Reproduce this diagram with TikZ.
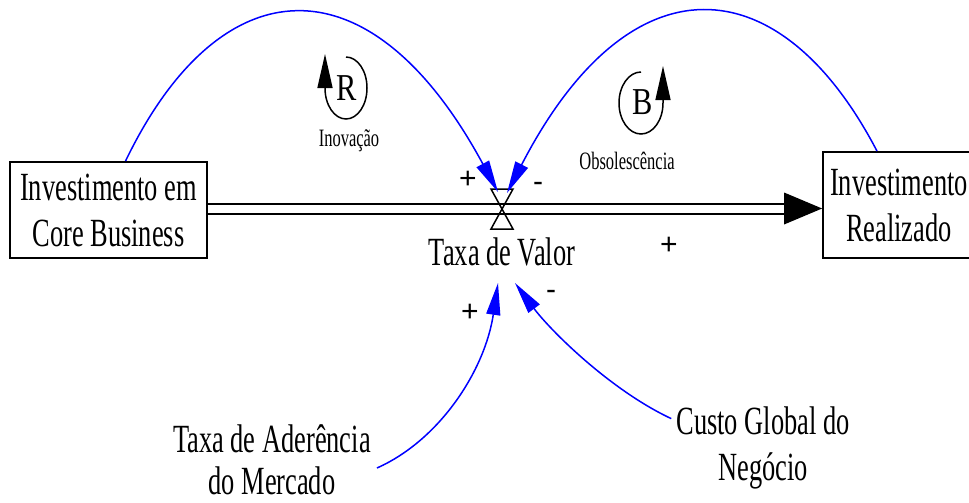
\documentclass[tikz,border=0pt]{standalone}
\usepackage{fontspec}
\setmainfont{Liberation Serif}[FakeStretch=0.66]
\newfontfamily\signfont{Liberation Sans}
\newfontfamily\loopfont{Liberation Serif}[FakeStretch=0.8]
\usetikzlibrary{arrows.meta,calc}
\begin{document}
\begin{tikzpicture}[x=1pt,y=-1pt,
  stockbox/.style={draw,line width=1.8pt,inner sep=0pt,align=center,font=\fontsize{40}{46}\selectfont},
  varlabel/.style={inner sep=0pt,align=center,font=\fontsize{40}{46}\selectfont},
  looplabel/.style={inner sep=0pt,font=\fontsize{25}{25}\selectfont},
  loopletter/.style={inner sep=0pt,font=\loopfont\fontsize{38}{38}\selectfont},
  sign/.style={inner sep=0pt,font=\signfont\fontsize{30}{30}\selectfont},
  link/.style={draw=blue,line width=1.5pt,-{Triangle[length=32pt,width=14pt]}},
  loopline/.style={line width=1.5pt,-{Triangle[length=34pt,width=15pt]}},
  pipe/.style={line width=2pt,double distance=8pt}
]
\useasboundingbox (0,0) rectangle (969,503);

% stocks
\node[stockbox,minimum width=197pt,minimum height=96pt] (lb) at (108.5,210) {Investimento em\\Core Business};
\node[stockbox,minimum width=152pt,minimum height=106pt] (rb) at (899,205) {Investimento\\Realizado};

% flow
\coordinate (valve) at (502,208.5);
\draw[pipe] (lb.east |- valve) -- ($(rb.west |- valve)+(-38,0)$);
\fill ($(rb.west |- valve)+(-38,-16)$) -- (rb.west |- valve) -- ($(rb.west |- valve)+(-38,16)$) -- cycle;
\draw[line width=1.5pt,line join=miter] ($(valve)+(-11,-19.5)$) -- ($(valve)+(11,-19.5)$) -- ($(valve)+(-11,20.5)$) -- ($(valve)+(11,20.5)$) -- cycle;
\node[varlabel] (tv) at (502,251.5) {Taxa de Valor};

% auxiliaries
\node[varlabel,font=\fontsize{40}{42}\selectfont] (ta) at (272,460) {Taxa de Aderência\\do Mercado};
\node[varlabel] (cg) at (763,448) {Custo Global do\\Negócio};

% link end points
\coordinate (inTip) at (498,192);
\coordinate (obTip) at (507,193);
\coordinate (taTip) at (498,283);
\coordinate (cgTip) at (515,283);

% links
\draw[link] ([xshift=17pt]lb.north) .. controls (220,-35) and (370,-45) .. (inTip);
\draw[link] ([xshift=-22pt]rb.north) .. controls (780,-35) and (630,-45) .. (obTip);
\draw[link] ($(ta.east)+(6,8)$) .. controls (440,440) and (485,370) .. (taTip);
\draw[link] ($(cg.north west)+(-5,12)$) .. controls (610,390) and (550,330) .. (cgTip);

% polarities
\node[sign] (p1) at (468,180) {+};
\node[sign] (m1) at (538,187) {-};
\node[sign] (p2) at (669,246) {+};
\node[sign] (p3) at (470,313) {+};
\node[sign] (m2) at (551,295) {-};

% loop R
\draw[loopline] (346,57) arc[start angle=-90,end angle=180,x radius=21,y radius=31] -- ++(0,-34);
\node[loopletter] (R) at (347,88) {R};
\node[looplabel] (inov) at (349,141) {Inovação};

% loop B
\draw[loopline] (641,72) arc[start angle=-90,end angle=-360,x radius=22,y radius=31] -- ++(0,-37);
\node[loopletter] (B) at (643,102) {B};
\node[looplabel] (obs) at (627,161) {Obsolescência};
\end{tikzpicture}
\end{document}
